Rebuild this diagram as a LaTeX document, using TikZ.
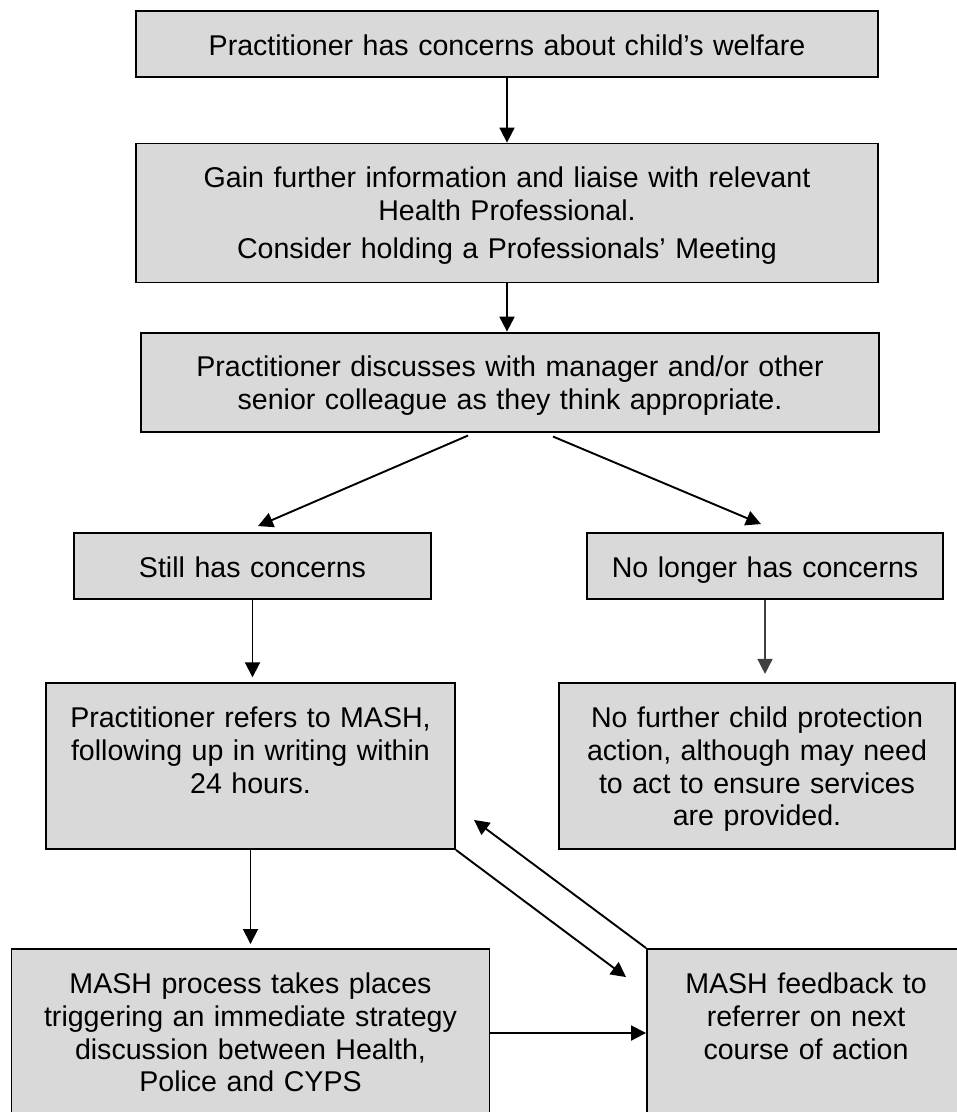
\documentclass[tikz,border=0pt]{standalone}
\usepackage{fontspec}
\setmainfont{Liberation Sans}
\usetikzlibrary{shapes, arrows.meta}
\tikzstyle{box} = [rectangle, draw=black, fill=black!15, line width=0.8pt, align=center, inner xsep=4pt, inner ysep=8.6pt, text height=10pt, font=\fontsize{12}{13.8}\selectfont]
\tikzstyle{edge} = [line width=0.8pt, ->, >={Triangle[length=6.3pt, width=6.3pt]}]
\tikzstyle{thinedge} = [line width=0.6pt, draw=black!75, ->, >={Triangle[length=6.3pt, width=6.3pt]}]

\begin{document}
\begin{tikzpicture}[x=0.42pt, y=-0.42pt, node distance=71pt]

\useasboundingbox (0,0) rectangle (956,1112);

\node (concern) [box, text width=303.64pt, text depth=0.52pt] at (507,44) {Practitioner has concerns about child’s welfare};
\node (gaininfo) [box, below of=concern, text width=303.64pt, text depth=31.18pt] {Gain further information and liaise with relevant\\ Health Professional.\\[2pt] Consider holding a Professionals’ Meeting};
\node (discuss) [box, below of=gaininfo, xshift=1.26pt, text width=301.96pt, text depth=14.38pt] {Practitioner discusses with manager and/or other\\ senior colleague as they think appropriate.};
\node (still) [box, below of=discuss, xshift=-108.15pt, yshift=-6.24pt, text width=141.94pt, text depth=0.52pt] {Still has concerns};
\node (nolonger) [box, below of=discuss, xshift=107.1pt, yshift=-6.24pt, text width=141.52pt, text depth=0.52pt] {No longer has concerns};
\node (refers) [box, below of=still, xshift=-0.84pt, yshift=-13pt, text width=163.78pt, text depth=42.52pt] {Practitioner refers to MASH,\\ following up in writing within\\ 24 hours.};
\node (nofurther) [box, below of=nolonger, xshift=-3.36pt, yshift=-13pt, text width=158.32pt, text depth=42.52pt] {No further child protection\\ action, although may need\\ to act to ensure services\\ are provided.};
\node (process) [box, below of=refers, yshift=-41.14pt, text width=192.76pt, text depth=43.36pt] {MASH process takes places\\ triggering an immediate strategy\\ discussion between Health,\\ Police and CYPS};
\node (feedback) [box, below of=nofurther, xshift=20.58pt, yshift=-41.14pt, text width=125.56pt, text depth=43.36pt] {MASH feedback to\\ referrer on next\\ course of action};

\draw [edge] (concern) -- (gaininfo);
\draw [edge] (gaininfo.south) -- (gaininfo.south |- discuss.north);
\draw [edge] ([xshift=-17.64pt, yshift=-1.26pt]discuss.south) -- ([xshift=2.31pt, yshift=2.52pt]still.north);
\draw [edge] ([xshift=18.06pt, yshift=-1.68pt]discuss.south) -- ([xshift=-1.68pt, yshift=3.36pt]nolonger.north);
\draw [edge] (still.south) -- ([yshift=2pt]still.south |- refers.north);
\draw [thinedge] (nolonger.south) -- ([yshift=3.4pt]nolonger.south |- nofurther.north);
\draw [edge] (refers.south) -- ([yshift=1.7pt]refers.south |- process.north);
\draw [edge] (refers.south east) -- ([xshift=-8.4pt, yshift=-12.2pt]feedback.north west);
\draw [edge] (feedback.north west) -- ([xshift=7.6pt, yshift=12.6pt]refers.south east);
\draw [edge] (process) -- (feedback);

\end{tikzpicture}
\end{document}
